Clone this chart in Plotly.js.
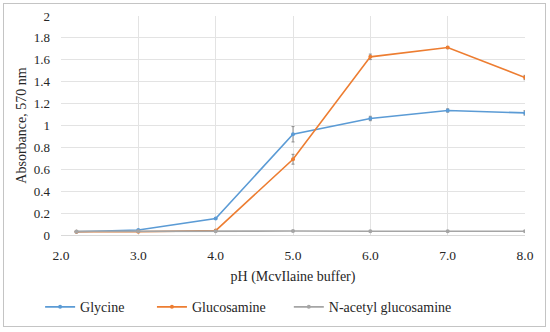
<!DOCTYPE html>
<html>
<head>
<meta charset="utf-8">
<script src="https://cdn.plot.ly/plotly-3.0.1.min.js"></script>
<style>
html,body{margin:0;padding:0;background:#fff;}
#wrap{position:relative;width:550px;height:332px;}
#chart{width:550px;height:332px;}
#frame{position:absolute;left:3px;top:3px;width:541px;height:322px;border:1.5px solid #c4c4c4;pointer-events:none;}
</style>
</head>
<body>
<div id="wrap"><div id="chart"></div><div id="frame"></div></div>
<script>
const pH = [2.2, 3.0, 4.0, 5.0, 6.0, 7.0, 8.0];
const glycine = [0.03, 0.045, 0.15, 0.92, 1.064, 1.137, 1.115];
const glycineErr = [0.005, 0.005, 0.005, 0.07, 0.02, 0.015, 0.02];
const glucosamine = [0.03, 0.03, 0.04, 0.692, 1.627, 1.712, 1.438];
const glucosamineErr = [0.005, 0.005, 0.005, 0.045, 0.025, 0.01, 0.02];
const nacetyl = [0.033, 0.035, 0.034, 0.036, 0.034, 0.034, 0.034];
const nacetylErr = [0.003, 0.003, 0.003, 0.003, 0.003, 0.003, 0.003];
const xTickVals = [2, 3, 4, 5, 6, 7, 8];
const xTickText = ["2.0", "3.0", "4.0", "5.0", "6.0", "7.0", "8.0"];
const yTickVals = [0, 0.2, 0.4, 0.6, 0.8, 1, 1.2, 1.4, 1.6, 1.8, 2];
const yTickText = ["0", "0.2", "0.4", "0.6", "0.8", "1", "1.2", "1.4", "1.6", "1.8", "2"];

const FONT = "Liberation Serif, DejaVu Serif, serif";
function mk(name, y, err, color, leg) {
  return {
    x: pH, y: y, name: name, type: 'scatter', mode: 'lines+markers', legend: leg,
    line: {color: color, width: 1.6},
    marker: {color: color, size: 4, symbol: 'circle'},
    error_y: {type: 'data', array: err, visible: true, color: '#8c8c8c', thickness: 1, width: 1.5}
  };
}
const data = [
  mk('Glycine', glycine, glycineErr, '#5B9BD5', 'legend'),
  mk('Glucosamine', glucosamine, glucosamineErr, '#ED7D31', 'legend2'),
  mk('N-acetyl glucosamine', nacetyl, nacetylErr, '#A5A5A5', 'legend3')
];
function leg(x) {
  return {orientation: 'h', x: x, xanchor: 'left', y: -0.33, yanchor: 'middle',
          itemwidth: 30, bgcolor: 'rgba(0,0,0,0)',
          font: {family: FONT, size: 14, color: '#262626'}};
}
const layout = {
  width: 550, height: 332,
  margin: {l: 61, r: 25, t: 16, b: 97, autoexpand: false},
  paper_bgcolor: '#fff', plot_bgcolor: '#fff',
  font: {family: FONT, size: 13, color: '#262626'},
  showlegend: true,
  legend: leg(-0.045),
  legend2: leg(0.196),
  legend3: leg(0.491),
  xaxis: {
    range: [2, 8], tickvals: xTickVals, ticktext: xTickText,
    showgrid: true, gridcolor: '#e3e3e3', gridwidth: 1, zeroline: false,
    showline: true, linecolor: '#d9d9d9', ticks: '', mirror: false,
    tickfont: {family: FONT, size: 13.5}, ticklabelstandoff: 8,
    title: {text: 'pH (McvIlaine buffer)', font: {family: FONT, size: 14}, standoff: 8}
  },
  yaxis: {
    range: [0, 2], tickvals: yTickVals, ticktext: yTickText,
    showgrid: true, gridcolor: '#e3e3e3', gridwidth: 1, zeroline: false,
    showline: false, ticks: '',
    tickfont: {family: FONT, size: 13}, ticklabelstandoff: 10,
    title: {text: 'Absorbance, 570 nm', font: {family: FONT, size: 14}, standoff: 3}
  }
};
Plotly.newPlot('chart', data, layout, {displayModeBar: false, staticPlot: true});
</script>
</body>
</html>
